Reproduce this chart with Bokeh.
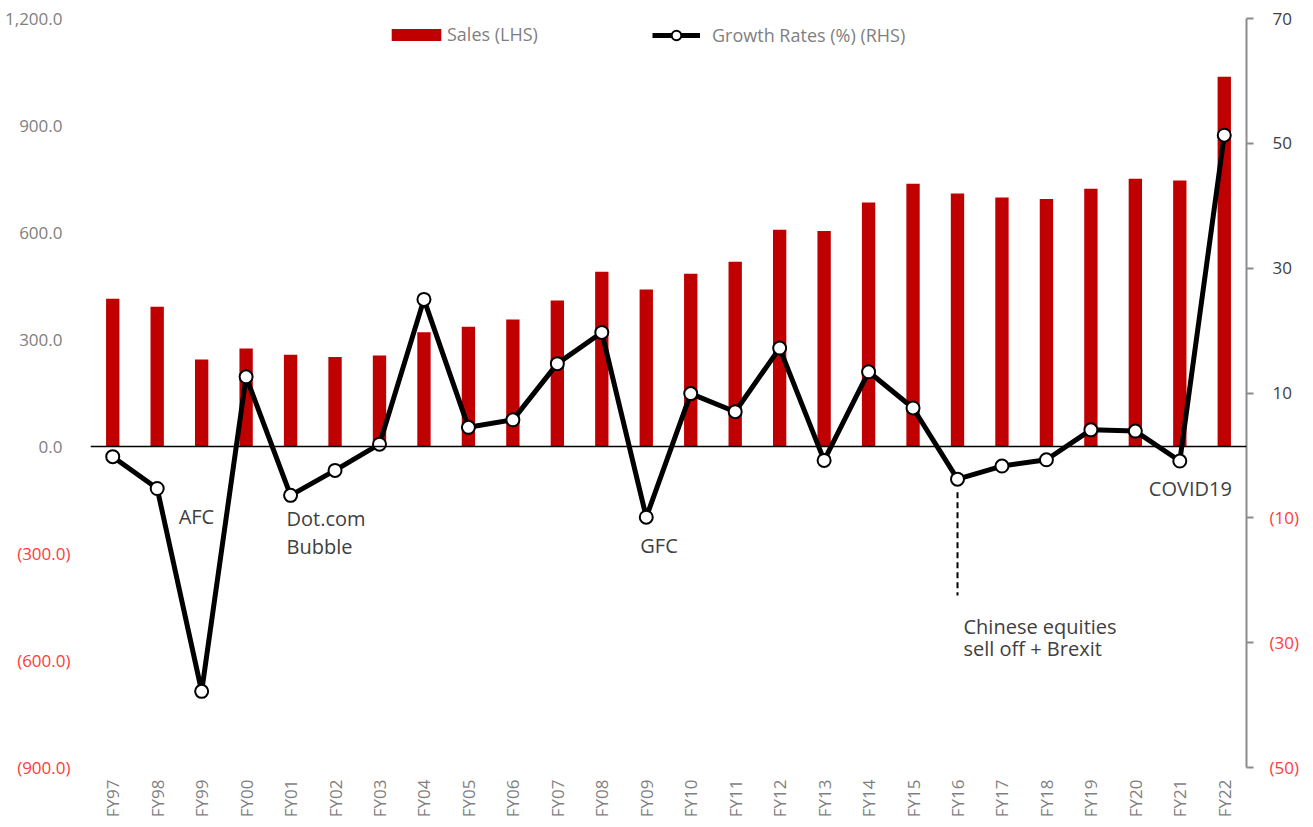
import math
from bokeh.plotting import figure
from bokeh.models import (ColumnDataSource, FactorRange, Range1d, LinearAxis, FixedTicker,
                          Span, Legend, LegendItem)
from bokeh.core.properties import value
from bokeh.embed import file_html
from bokeh.resources import INLINE

# ---------------- data ----------------
years = ["FY97", "FY98", "FY99", "FY00", "FY01", "FY02", "FY03", "FY04", "FY05", "FY06",
         "FY07", "FY08", "FY09", "FY10", "FY11", "FY12", "FY13", "FY14", "FY15", "FY16",
         "FY17", "FY18", "FY19", "FY20", "FY21", "FY22"]
sales = [414, 392, 244, 275, 257, 251, 255, 320, 336, 356,
         409, 490, 440, 484, 518, 608, 604, 684, 737, 709,
         698, 694, 723, 751, 746, 1037]
growth = [-0.2, -5.3, -37.8, 12.6, -6.4, -2.4, 1.8, 25.0, 4.5, 5.7,
          14.7, 19.7, -9.9, 9.9, 7.0, 17.2, -0.8, 13.4, 7.6, -3.8,
          -1.7, -0.7, 4.1, 3.9, -0.9, 51.3]

left_pos_ticks = [0, 300, 600, 900, 1200]
left_neg_ticks = [-300, -600, -900]
right_pos_ticks = [10, 30, 50, 70]
right_neg_ticks = [-10, -30, -50]

ann_text = ["AFC", "Dot.com", "Bubble", "GFC", "Chinese equities", "sell off + Brexit", "COVID19"]
ann_x = ["FY99", "FY01", "FY01", "FY09", "FY16", "FY16", "FY21"]
ann_y = [-196, -202, -281, -277, -505, -567, -118]
ann_dx = [-23, -4, -4, -6, 6, 6, -31]

FONT = "Open Sans"
RED = "#ff3b3b"

src = ColumnDataSource(dict(year=years, sales=sales, growth=growth))

p = figure(x_range=FactorRange(*years), y_range=Range1d(-900, 1200),
           width=1313, height=827, output_backend="svg", toolbar_location=None,
           y_axis_location=None,
           min_border_left=90, min_border_right=67, min_border_top=18, min_border_bottom=60)
p.extra_y_ranges = {"g": Range1d(-50, 70)}
p.outline_line_color = None
p.grid.visible = False
p.background_fill_color = "white"
p.border_fill_color = "white"

# x axis
xa = p.xaxis[0]
xa.axis_line_color = None
xa.major_tick_line_color = None
xa.minor_tick_line_color = None
xa.major_label_orientation = math.pi / 2
xa.major_label_standoff = 6
xa.major_label_text_font = FONT
xa.major_label_text_font_size = "17px"
xa.major_label_text_color = "#7f7f7f"


def label_axis(ticks, labels, color, standoff, rng=None):
    kw = {"y_range_name": rng} if rng else {}
    return LinearAxis(ticker=FixedTicker(ticks=ticks),
                      major_label_overrides=dict(zip(ticks, labels)),
                      major_label_standoff=standoff,
                      major_label_text_font=FONT,
                      major_label_text_font_size="17px",
                      major_label_text_color=color,
                      axis_line_color=None,
                      major_tick_line_color=None, minor_tick_line_color=None,
                      major_tick_out=0, major_tick_in=0, minor_tick_out=0, minor_tick_in=0,
                      **kw)


# left: inner axis = negative labels (red), outer axis = positive labels (gray)
p.add_layout(label_axis(left_neg_ticks, [f"({abs(t):,.1f})" for t in left_neg_ticks], RED, 20), "left")
p.add_layout(label_axis(left_pos_ticks, [f"{t:,.1f}" for t in left_pos_ticks], "#808080", -48), "left")

# right: inner axis = spine, all tick marks, positive labels; outer = negative labels (red)
ra = label_axis(right_pos_ticks, [str(t) for t in right_pos_ticks], "#404040", 19, "g")
ra.ticker = FixedTicker(ticks=right_pos_ticks, minor_ticks=right_neg_ticks)
ra.axis_line_color = "#8c8c8c"
ra.axis_line_width = 2
ra.major_tick_line_color = "#8c8c8c"
ra.minor_tick_line_color = "#8c8c8c"
ra.major_tick_line_width = 2
ra.minor_tick_line_width = 2
ra.major_tick_out = 7
ra.minor_tick_out = 7
p.add_layout(ra, "right")
p.add_layout(label_axis(right_neg_ticks, [f"({abs(t)})" for t in right_neg_ticks], RED, -25, "g"), "right")

# glyphs
bars = p.vbar(x="year", top="sales", width=0.3, source=src, fill_color="#c00000", line_color=None)
p.add_layout(Span(location=0, dimension="width", line_color="black", line_width=1.5))
ln = p.line(x="year", y="growth", source=src, y_range_name="g", line_color="black", line_width=5)
sc = p.scatter(x="year", y="growth", source=src, y_range_name="g", size=13,
               fill_color="white", line_color="black", line_width=2)

p.segment(x0=["FY16"], y0=[-128], x1=["FY16"], y1=[-418], line_color="black",
          line_width=2, line_dash="6 4")

ann_src = ColumnDataSource(dict(x=ann_x, y=ann_y, t=ann_text, dx=ann_dx))
p.text(x="x", y="y", text="t", x_offset="dx", source=ann_src,
       text_font=value(FONT), text_font_size="20px", text_color="#404040",
       text_align="left", text_baseline="alphabetic")

# legends
leg1 = Legend(items=[LegendItem(label="Sales (LHS)", renderers=[bars])],
              location=(295, 721), orientation="horizontal", padding=0, margin=0,
              glyph_width=62, glyph_height=15, label_height=22, label_standoff=0,
              label_text_font=FONT, label_text_font_size="18px", label_text_color="#7f7f7f",
              label_text_baseline="alphabetic",
              border_line_color=None, background_fill_alpha=0)
leg2 = Legend(items=[LegendItem(label="Growth Rates (%) (RHS)", renderers=[ln, sc])],
              location=(562, 720), orientation="horizontal", padding=0, margin=0,
              glyph_width=48, glyph_height=24, label_height=24, label_standoff=12,
              label_text_font=FONT, label_text_font_size="18px", label_text_color="#7f7f7f",
              border_line_color=None, background_fill_alpha=0)
p.add_layout(leg1, "center")
p.add_layout(leg2, "center")

open("out.html", "w").write(file_html(p, INLINE))
